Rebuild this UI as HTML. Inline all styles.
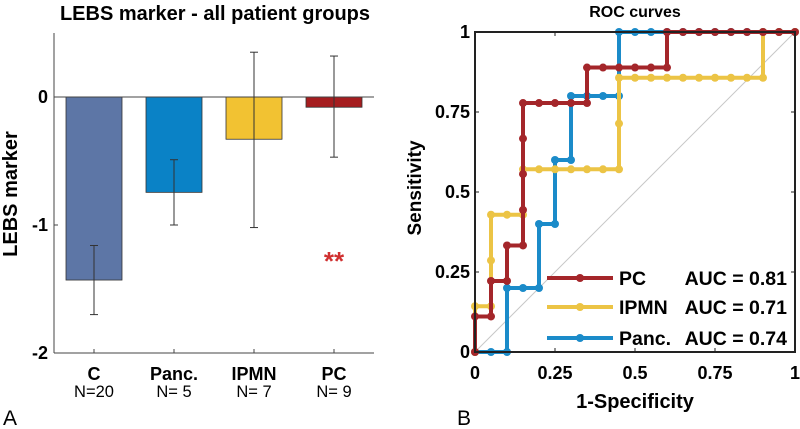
<!DOCTYPE html>
<html><head><meta charset="utf-8">
<style>
html,body{margin:0;padding:0;background:#fff;}
svg{display:block;font-family:"Liberation Sans",Arial,sans-serif;}
.b{font-weight:bold;}
</style></head>
<body>
<svg id="fig" width="800" height="429" viewBox="0 0 800 429">
<g id="left"></g>
<g id="right"></g>
</svg>
<script>
// ----- Bar chart data -----
const barCategories = ["C","Panc.","IPMN","PC"];
const barCounts = ["N=20","N= 5","N= 7","N= 9"];
const barValues = [-1.43,-0.745,-0.33,-0.08];
const barErrLow = [-1.70,-1.0,-1.02,-0.47];
const barErrHigh = [-1.16,-0.49,0.35,0.32];
const barColors = ["#5d76a6","#0a82c6","#f2c232","#a51d1f"];
const barYTicks = [0,-1,-2];
// ----- ROC data -----
const rocNames = ["PC","IPMN","Panc."];
const rocAUC = ["AUC = 0.81","AUC = 0.71","AUC = 0.74"];
const rocColors = ["#a4262a","#ecc445","#1b8bc9"];
const pcFpr  = [0,0,0.05,0.05,0.1,0.1,0.15,0.15,0.15,0.15,0.15,0.2,0.25,0.3,0.35,0.35,0.4,0.45,0.5,0.55,0.6,0.6,0.65,0.7,0.75,0.8,0.85,0.9,0.95,1];
const pcTpr  = [0,0.111,0.111,0.222,0.222,0.333,0.333,0.444,0.556,0.667,0.778,0.778,0.778,0.778,0.778,0.889,0.889,0.889,0.889,0.889,0.889,1,1,1,1,1,1,1,1,1];
const ipFpr  = [0,0,0.05,0.05,0.05,0.1,0.15,0.15,0.2,0.25,0.3,0.35,0.4,0.45,0.45,0.45,0.5,0.55,0.6,0.65,0.7,0.75,0.8,0.85,0.9,0.9,0.95,1];
const ipTpr  = [0,0.143,0.143,0.286,0.429,0.429,0.429,0.571,0.571,0.571,0.571,0.571,0.571,0.571,0.714,0.857,0.857,0.857,0.857,0.857,0.857,0.857,0.857,0.857,0.857,1,1,1];
const paFpr  = [0,0.05,0.1,0.1,0.15,0.2,0.2,0.25,0.25,0.3,0.3,0.35,0.4,0.45,0.45,0.5,0.55,0.6,0.65,0.7,0.75,0.8,0.85,0.9,0.95,1];
const paTpr  = [0,0,0,0.2,0.2,0.2,0.4,0.4,0.6,0.6,0.8,0.8,0.8,0.8,1,1,1,1,1,1,1,1,1,1,1,1];
const rocTicks = [0,0.25,0.5,0.75,1];
const rocTickLabels = ["0","0.25","0.5","0.75","1"];

const NS="http://www.w3.org/2000/svg";
function mk(parent,tag,attrs,text){const e=document.createElementNS(NS,tag);for(const k in attrs)e.setAttribute(k,attrs[k]);if(text!==undefined)e.textContent=text;parent.appendChild(e);return e;}

// ----- Left bar chart -----
const L=document.getElementById('left');
const bx=i=>54+(i+0.5)*80;
const by=v=>97-v*128;
let t=mk(L,'text',{x:215,y:20,'text-anchor':'middle','font-size':20,class:'b'},'LEBS marker - all patient groups');

barValues.forEach((v,i)=>{
  const r=mk(L,'rect',{x:bx(i)-28,y:Math.min(by(0),by(v)),width:56,height:Math.abs(by(v)-by(0)),fill:barColors[i],stroke:'#333','stroke-width':0.8});
  
  
});
mk(L,'line',{x1:54,y1:by(0),x2:374,y2:by(0),stroke:'#444','stroke-width':1});
let ax=mk(L,'line',{x1:54,y1:33,x2:54,y2:353,stroke:'#444','stroke-width':1});

let ax2=mk(L,'line',{x1:54,y1:353,x2:374,y2:353,stroke:'#444','stroke-width':1});

barYTicks.forEach(v=>{
  mk(L,'line',{x1:54,y1:by(v),x2:58,y2:by(v),stroke:'#444'});
  const tl=mk(L,'text',{x:48,y:by(v)+6,'text-anchor':'end','font-size':18,class:'b'},String(v));
  
});
barCategories.forEach((c,i)=>{
  mk(L,'line',{x1:bx(i),y1:353,x2:bx(i),y2:349,stroke:'#444'});
  const tl=mk(L,'text',{x:bx(i),y:380,'text-anchor':'middle','font-size':18,class:'b'},c);
  
  const nl=mk(L,'text',{x:bx(i),y:397,'text-anchor':'middle','font-size':16.5},barCounts[i]);
  
});
barValues.forEach((v,i)=>{
  const g=mk(L,'g',{stroke:'#333','stroke-width':1});
  
  mk(g,'line',{x1:bx(i),y1:by(barErrLow[i]),x2:bx(i),y2:by(barErrHigh[i])});
  mk(g,'line',{x1:bx(i)-4,y1:by(barErrLow[i]),x2:bx(i)+4,y2:by(barErrLow[i])});
  mk(g,'line',{x1:bx(i)-4,y1:by(barErrHigh[i]),x2:bx(i)+4,y2:by(barErrHigh[i])});
});
let st=mk(L,'text',{x:334,y:270,'text-anchor':'middle','font-size':26,fill:'#d03030',class:'b'},'**');

let yt=mk(L,'text',{x:17,y:194,'text-anchor':'middle','font-size':20,class:'b',transform:'rotate(-90 17 194)'},'LEBS marker');

let pa=mk(L,'text',{x:3,y:425,'font-size':21},'A');


// ----- Right ROC chart -----
const R=document.getElementById('right');
const rx=v=>475+v*320, ry=v=>352-v*320;
let rt=mk(R,'text',{x:635,y:17,'text-anchor':'middle','font-size':16,class:'b'},'ROC curves');

mk(R,'line',{x1:rx(0),y1:ry(0),x2:rx(1),y2:ry(1),stroke:'#c8c8c8','stroke-width':1});
rocTicks.forEach((v,i)=>{
  mk(R,'line',{x1:rx(v),y1:352,x2:rx(v),y2:348,stroke:'#222'});
  mk(R,'line',{x1:rx(v),y1:32,x2:rx(v),y2:36,stroke:'#222'});
  mk(R,'line',{x1:475,y1:ry(v),x2:479,y2:ry(v),stroke:'#222'});
  mk(R,'line',{x1:795,y1:ry(v),x2:791,y2:ry(v),stroke:'#222'});
  const xl=mk(R,'text',{x:rx(v),y:379,'text-anchor':'middle','font-size':18,class:'b'},rocTickLabels[i]);
  
  const yl=mk(R,'text',{x:470,y:ry(v)+6,'text-anchor':'end','font-size':18,class:'b'},rocTickLabels[i]);
  
});
const series=[[paFpr,paTpr,2],[ipFpr,ipTpr,1],[pcFpr,pcTpr,0]];
series.forEach(([fx,ty,k])=>{
  const g=mk(R,'g',{});
  
  
  mk(g,'polyline',{points:fx.map((f,i)=>rx(f)+','+ry(ty[i])).join(' '),fill:'none',stroke:rocColors[k],'stroke-width':4});
  fx.forEach((f,i)=>mk(g,'circle',{cx:rx(f),cy:ry(ty[i]),r:4,fill:rocColors[k]}));
});
let box=mk(R,'rect',{x:475,y:32,width:320,height:320,fill:'none',stroke:'#222','stroke-width':2});

const legY=[278,307,338];
rocNames.forEach((n,k)=>{
  const g=mk(R,'g',{});
  
  
  mk(g,'line',{x1:547,y1:legY[k],x2:613,y2:legY[k],stroke:rocColors[k],'stroke-width':4});
  mk(g,'circle',{cx:580,cy:legY[k],r:4,fill:rocColors[k]});
  mk(g,'text',{x:619,y:legY[k]+7,'font-size':19.5,class:'b'},n);
  mk(g,'text',{x:787,y:legY[k]+7,'text-anchor':'end','font-size':19.5,class:'b'},rocAUC[k]);
});
let xt=mk(R,'text',{x:635,y:408,'text-anchor':'middle','font-size':20,class:'b'},'1-Specificity');

let yt2=mk(R,'text',{x:421,y:188,'text-anchor':'middle','font-size':19,class:'b',transform:'rotate(-90 421 188)'},'Sensitivity');

let pb=mk(R,'text',{x:457,y:425,'font-size':21},'B');

</script>
</body></html>
